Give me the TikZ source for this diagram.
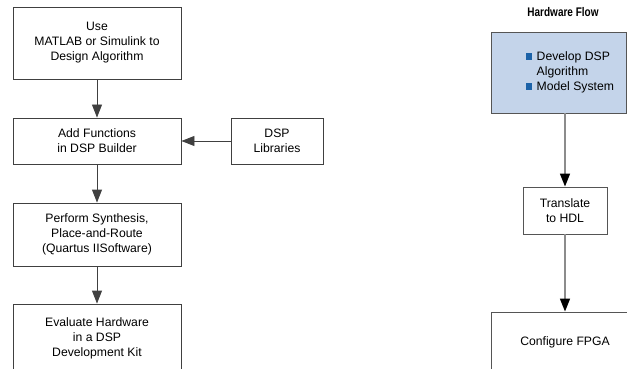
\documentclass[tikz,border=0pt]{standalone}
\usepackage{fontspec}
\setmainfont{Liberation Sans}
\usetikzlibrary{arrows.meta}

\definecolor{boxline}{RGB}{64,64,64}
\definecolor{hwline}{RGB}{85,85,85}
\definecolor{hwarrowline}{RGB}{140,140,140}
\definecolor{hwfill}{RGB}{196,212,234}
\definecolor{bulletblue}{RGB}{28,98,168}

% small blue square used as bullet
\newcommand{\bsq}{\textcolor{bulletblue}{\rule[0.5pt]{6.5pt}{6.5pt}}}

\tikzset{
  flowbox/.style={draw=boxline, line width=0.9pt, align=center, inner sep=0pt,
    font=\fontsize{12.2}{15}\selectfont},
  hwbox/.style={flowbox, draw=hwline},
  flowarrow/.style={draw=boxline, line width=0.9pt, -{Triangle[length=13pt,width=10pt]}},
  hwarrow/.style={draw=hwarrowline, line width=1.6pt, -{Triangle[length=13pt,width=10pt,color=black]}}
}

\begin{document}
\begin{tikzpicture}[x=1pt,y=-1pt]
  \useasboundingbox (0,0) rectangle (627,369);

  %%%%% design flow (left column) %%%%%
  \node[flowbox, minimum width=168pt, minimum height=72pt] (use) at (97,43)
    {Use\\MATLAB or Simulink to\\Design Algorithm};
  \node[flowbox, minimum width=168pt, minimum height=46pt] (add) at (97,141)
    {Add Functions\\in DSP Builder};
  \node[flowbox, minimum width=92pt, minimum height=46pt] (lib) at (277,141)
    {DSP\\Libraries};
  \node[flowbox, minimum width=168pt, minimum height=63pt] (synth) at (97,234.5)
    {Perform Synthesis,\\Place-and-Route\\(Quartus IISoftware)};
  \node[flowbox, minimum width=168pt, minimum height=68pt] (eval) at (97,338)
    {Evaluate Hardware\\in a DSP\\Development Kit};

  \draw[flowarrow] (use) -- (add);
  \draw[flowarrow] (lib) -- (add);
  \draw[flowarrow] (add) -- (synth);
  \draw[flowarrow] (synth) -- (eval);

  %%%%% hardware flow (right column) %%%%%
  \node (title) at (563,12)
    {\scalebox{0.8}[1]{\fontsize{12.5}{13}\selectfont\bfseries Hardware Flow}};
  \node[hwbox, fill=hwfill, minimum width=135pt, minimum height=81pt] (dev) at (558.5,72.5) {};
  \node[font=\fontsize{12.2}{15}\selectfont, inner sep=0pt, anchor=west] (devtext) at (525.5,72.5)
    {\begin{tabular}{@{}l@{\hspace{4.5pt}}l@{}}
      \bsq & Develop DSP\\
           & Algorithm\\
      \bsq & Model System
    \end{tabular}};
  \node[hwbox, minimum width=84pt, minimum height=47pt] (hdl) at (565,210.5)
    {Translate\\to HDL};
  \node[hwbox, minimum width=148pt, minimum height=60pt] (fpga) at (565,342)
    {Configure FPGA};

  \draw[hwarrow] (hdl.north |- dev.south) -- (hdl);
  \draw[hwarrow] (hdl) -- (fpga);
\end{tikzpicture}
\end{document}
